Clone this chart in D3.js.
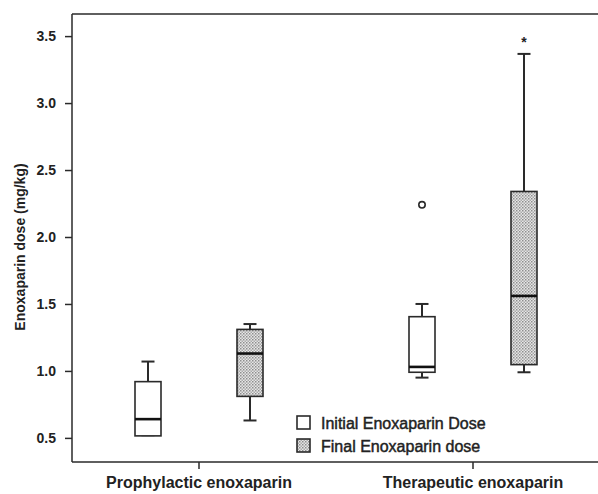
<!DOCTYPE html>
<html>
<head>
<meta charset="utf-8">
<script src="https://cdn.jsdelivr.net/npm/d3@7"></script>
<style>
  body { margin: 0; background: #fff; }
  text { font-family: "Liberation Sans", Arial, sans-serif; font-weight: bold; fill: #222; }
</style>
</head>
<body>
<svg id="chart" width="598" height="494"></svg>
<script>
// categories and series
var categories = ["Prophylactic enoxaparin", "Therapeutic enoxaparin"];
var series = ["Initial Enoxaparin Dose", "Final Enoxaparin dose"];

// box stats, one entry per box: [proph initial, proph final, ther initial, ther final]
var boxCategory = [0, 0, 1, 1];
var boxSeries = [0, 1, 0, 1];
var whiskerLow = [0.52, 0.63, 0.95, 0.99];
var q1 = [0.515, 0.81, 0.99, 1.047];
var median = [0.64, 1.13, 1.03, 1.56];
var q3 = [0.92, 1.31, 1.405, 2.34];
var whiskerHigh = [1.07, 1.35, 1.50, 3.367];

// outliers: circles (mild) and stars (extreme)
var circleOutliers = [{ box: 2, value: 2.24 }];
var starOutliers = [{ box: 3, value: 3.47 }];

var yTicks = [0.5, 1.0, 1.5, 2.0, 2.5, 3.0, 3.5];

var svg = d3.select("#chart");
var mLeft = 72, mTop = 14, mBottom = 462, mRight = 598;
var ink = "#2a2a2a";
var fontFam = "Liberation Sans, Arial, sans-serif";

var y = d3.scaleLinear().domain([0.32, 3.665]).range([mBottom, mTop]);
var x = d3.scaleBand().domain(categories).range([62, 610]);
var xs = d3.scalePoint().domain(series).range([86, 188]);
var boxW = 26, capW = 13;

// dotted fill pattern
var defs = svg.append("defs");
var pat = defs.append("pattern")
    .attr("id", "dots")
    .attr("width", 3).attr("height", 3)
    .attr("patternUnits", "userSpaceOnUse");
pat.append("rect").attr("width", 3).attr("height", 3).attr("fill", "#e6e6e6");
pat.append("rect").attr("x", 0).attr("y", 0).attr("width", 1.5).attr("height", 1.5).attr("fill", "#8e8e8e");
pat.append("rect").attr("x", 1.5).attr("y", 1.5).attr("width", 1.5).attr("height", 1.5).attr("fill", "#aaaaaa");

// top frame line
svg.append("line").attr("x1", mLeft).attr("x2", mRight).attr("y1", mTop).attr("y2", mTop)
    .attr("stroke", ink).attr("stroke-width", 1.5);

// y axis
var yAxis = svg.append("g")
    .attr("transform", "translate(" + mLeft + ",0)")
    .call(d3.axisLeft(y).tickValues(yTicks).tickFormat(d3.format(".1f")).tickSize(7).tickSizeOuter(0));
yAxis.select(".domain").remove();
yAxis.selectAll(".tick line").attr("stroke", ink).attr("stroke-width", 1.5);
yAxis.selectAll(".tick text").attr("x", -16).style("font-size", "14px")
    .style("font-family", fontFam).style("font-weight", "bold").attr("fill", "#222");
svg.append("line").attr("x1", mLeft).attr("x2", mLeft).attr("y1", mTop).attr("y2", mBottom)
    .attr("stroke", ink).attr("stroke-width", 1.5);

// x axis
var xAxis = svg.append("g")
    .attr("transform", "translate(0," + mBottom + ")")
    .call(d3.axisBottom(x).tickSize(7).tickSizeOuter(0));
xAxis.select(".domain").remove();
xAxis.selectAll(".tick line").attr("stroke", ink).attr("stroke-width", 1.5);
xAxis.selectAll(".tick text").attr("y", 15).style("font-size", "16px")
    .style("font-family", fontFam).style("font-weight", "bold").attr("fill", "#222");
svg.append("line").attr("x1", mLeft).attr("x2", mRight).attr("y1", mBottom).attr("y2", mBottom)
    .attr("stroke", ink).attr("stroke-width", 1.5);

// y title
svg.append("text")
    .attr("transform", "translate(25,247) rotate(-90)")
    .attr("text-anchor", "middle")
    .style("font-size", "14px")
    .text("Enoxaparin dose (mg/kg)");

function cx(i) {
    return x(categories[boxCategory[i]]) + xs(series[boxSeries[i]]);
}

var idx = d3.range(q1.length);
var boxes = svg.append("g").selectAll("g").data(idx).enter().append("g");

// whiskers
boxes.append("line")
    .attr("x1", cx).attr("x2", cx)
    .attr("y1", function (i) { return y(whiskerHigh[i]); })
    .attr("y2", function (i) { return y(q3[i]); })
    .attr("stroke", ink).attr("stroke-width", 2);
boxes.append("line")
    .attr("x1", cx).attr("x2", cx)
    .attr("y1", function (i) { return y(whiskerLow[i]); })
    .attr("y2", function (i) { return y(q1[i]); })
    .attr("stroke", ink).attr("stroke-width", 2);
boxes.append("line")
    .attr("x1", function (i) { return cx(i) - capW / 2; })
    .attr("x2", function (i) { return cx(i) + capW / 2; })
    .attr("y1", function (i) { return y(whiskerHigh[i]); })
    .attr("y2", function (i) { return y(whiskerHigh[i]); })
    .attr("stroke", ink).attr("stroke-width", 2);
boxes.append("line")
    .attr("x1", function (i) { return cx(i) - capW / 2; })
    .attr("x2", function (i) { return cx(i) + capW / 2; })
    .attr("y1", function (i) { return y(whiskerLow[i]); })
    .attr("y2", function (i) { return y(whiskerLow[i]); })
    .attr("stroke", ink).attr("stroke-width", 2);

// boxes
boxes.append("rect")
    .attr("x", function (i) { return cx(i) - boxW / 2; })
    .attr("y", function (i) { return y(q3[i]); })
    .attr("width", boxW)
    .attr("height", function (i) { return y(q1[i]) - y(q3[i]); })
    .attr("fill", function (i) { return boxSeries[i] === 0 ? "#fff" : "url(#dots)"; })
    .attr("stroke", ink).attr("stroke-width", 1.6);

// medians
boxes.append("line")
    .attr("x1", function (i) { return cx(i) - boxW / 2; })
    .attr("x2", function (i) { return cx(i) + boxW / 2; })
    .attr("y1", function (i) { return y(median[i]); })
    .attr("y2", function (i) { return y(median[i]); })
    .attr("stroke", "#111").attr("stroke-width", 2.6);

// outliers
svg.append("g").selectAll("circle").data(circleOutliers).enter().append("circle")
    .attr("cx", function (d) { return cx(d.box); })
    .attr("cy", function (d) { return y(d.value); })
    .attr("r", 3.2)
    .attr("fill", "#fff").attr("stroke", ink).attr("stroke-width", 1.6);
svg.append("g").selectAll("text").data(starOutliers).enter().append("text")
    .attr("x", function (d) { return cx(d.box); })
    .attr("y", function (d) { return y(d.value) + 7; })
    .attr("text-anchor", "middle")
    .style("font-size", "14px")
    .text("*");

// legend
var legend = svg.append("g").attr("transform", "translate(296,415)");
var items = legend.selectAll("g").data(series).enter().append("g")
    .attr("transform", function (d, i) { return "translate(0," + (i * 23) + ")"; });
items.append("rect")
    .attr("x", 1).attr("y", 1)
    .attr("width", 13).attr("height", 13)
    .attr("fill", function (d, i) { return i === 0 ? "#fff" : "url(#dots)"; })
    .attr("stroke", ink).attr("stroke-width", 1.6);
items.append("text")
    .attr("x", 25).attr("y", 13.5)
    .style("font-size", "16px")
    .style("font-weight", "normal")
    .style("stroke", "#222").style("stroke-width", "0.45px")
    .text(function (d) { return d; });
</script>
</body>
</html>
